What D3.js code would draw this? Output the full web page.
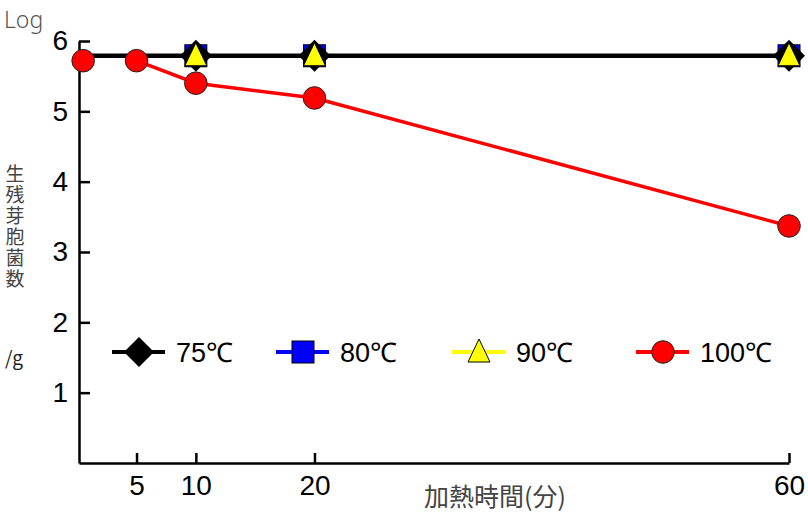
<!DOCTYPE html>
<html><head><meta charset="utf-8">
<script src="https://cdn.jsdelivr.net/npm/d3@7"></script>
<style>body{margin:0;background:#fff}svg{display:block}
.num{font-family:"Liberation Sans",Arial,Helvetica,sans-serif}
.cjk{font-family:"Noto Sans CJK JP",sans-serif}
</style>
</head><body>
<svg id="c" width="808" height="512"></svg>
<script>
// ---- data ----
const times = [0.5, 5, 10, 20, 60];
const xTicks = [5, 10, 20, 60];
const yTicks = [1, 2, 3, 4, 5, 6];
const seriesNames = ["75℃", "80℃", "90℃", "100℃"];
const log75 = [null, null, 5.79, 5.79, 5.79];
const log80 = [null, null, 5.79, 5.79, 5.79];
const log90 = [null, null, 5.79, 5.79, 5.79];
const log100 = [5.72, 5.72, 5.40, 5.19, 3.37];
const line75 = [5.79, 5.79, 5.79, 5.79, 5.79];   // line drawn from the start
const yLabel = "生残芽胞菌数";

const svg = d3.select("#c");
const x = d3.scaleLinear().domain([0.15, 60]).range([79, 789]);
const y = d3.scaleLinear().domain([0, 6]).range([463, 41]);

// axes
const gx = svg.append("g").attr("transform", "translate(0,463)")
  .call(d3.axisBottom(x).tickValues(xTicks).tickSizeInner(-10).tickSizeOuter(0).tickPadding(12).tickFormat(d3.format("d")));
const gy = svg.append("g").attr("transform", "translate(79,0)")
  .call(d3.axisLeft(y).tickValues(yTicks).tickSizeInner(-11).tickSizeOuter(0).tickPadding(11).tickFormat(d3.format("d")));
[gx, gy].forEach(g => {
  g.attr("font-family", null).attr("font-size", null);
  g.select(".domain").attr("stroke", "#000").attr("stroke-width", 2.5);
  g.selectAll(".tick line").attr("stroke", "#000").attr("stroke-width", 2.5);
  g.selectAll(".tick text").attr("class", "num").attr("fill", "#000").style("font-size", "28px");
});

// axis titles
svg.append("text").attr("x", 4).attr("y", 28).text("Log")
  .style("font-family", "'Noto Sans', sans-serif").style("font-size", "23px").attr("fill", "#555").style("font-weight", 300);
svg.append("text").attr("class", "cjk").attr("x", 15).attr("y", 164).text(yLabel)
  .style("writing-mode", "vertical-rl").style("text-orientation", "upright")
  .style("letter-spacing", "2px").style("font-size", "19px").attr("fill", "#444");
svg.append("text").attr("class", "cjk").attr("x", 5).attr("y", 365).text("/g")
  .style("font-size", "19px").attr("fill", "#222");
svg.append("text").attr("class", "cjk").attr("x", 495).attr("y", 506).attr("text-anchor", "middle").text("加熱時間(分)")
  .style("font-size", "25px").attr("fill", "#444");

const pts = arr => times.map((t, i) => ({t, v: arr[i]})).filter(d => d.v != null);
const line = d3.line().x(d => x(d.t)).y(d => y(d.v));

// lines
svg.append("path").datum(pts(log100).slice(1)).attr("d", line).attr("fill", "none").attr("stroke", "#ff0000").attr("stroke-width", 3.5);
svg.append("path").datum(pts(line75)).attr("d", line).attr("fill", "none").attr("stroke", "#000").attr("stroke-width", 4.3);

// marker drawers
const sym = {
  sq: (g, cx, cy) => g.append("rect").attr("x", cx - 11).attr("y", cy - 11).attr("width", 22).attr("height", 22).attr("fill", "#0000ff").attr("stroke", "#000").attr("stroke-width", 1),
  dia: (g, cx, cy, s = 16) => g.append("path").attr("d", `M${cx},${cy - s}L${cx + s},${cy}L${cx},${cy + s}L${cx - s},${cy}Z`).attr("fill", "#000"),
  tri: (g, cx, cy) => g.append("path").attr("d", `M${cx},${cy - 13}L${cx + 11},${cy + 10}L${cx - 11},${cy + 10}Z`).attr("fill", "#ffff00").attr("stroke", "#000").attr("stroke-width", 1),
  cir: (g, cx, cy) => g.append("circle").attr("cx", cx).attr("cy", cy).attr("r", 11.3).attr("fill", "#ff0000").attr("stroke", "#222").attr("stroke-width", 1)
};
const mg = svg.append("g");
pts(log80).forEach(d => sym.sq(mg, x(d.t), y(d.v)));
pts(log75).forEach(d => sym.dia(mg, x(d.t), y(d.v)));
pts(log90).forEach(d => sym.tri(mg, x(d.t), y(d.v)));
pts(log100).forEach(d => sym.cir(mg, x(d.t), y(d.v)));

// legend
const legX = [139, 303, 479, 663];
const legColor = ["#000", "#0000ff", "#ffff00", "#ff0000"];
const legSym = ["dia", "sq", "tri", "cir"];
const lg = svg.append("g");
seriesNames.forEach((n, i) => {
  const cx = legX[i], cy = 352;
  lg.append("line").attr("x1", cx - 27).attr("x2", cx + 26).attr("y1", cy).attr("y2", cy)
    .attr("stroke", legColor[i]).attr("stroke-width", 4);
  if (legSym[i] === "dia") sym.dia(lg, cx, cy, 15); else sym[legSym[i]](lg, cx, cy);
  lg.append("text").attr("class", "num").attr("x", cx + 37).attr("y", 362).text(n)
    .style("font-size", "27px").attr("fill", "#000");
});
</script>
</body></html>
